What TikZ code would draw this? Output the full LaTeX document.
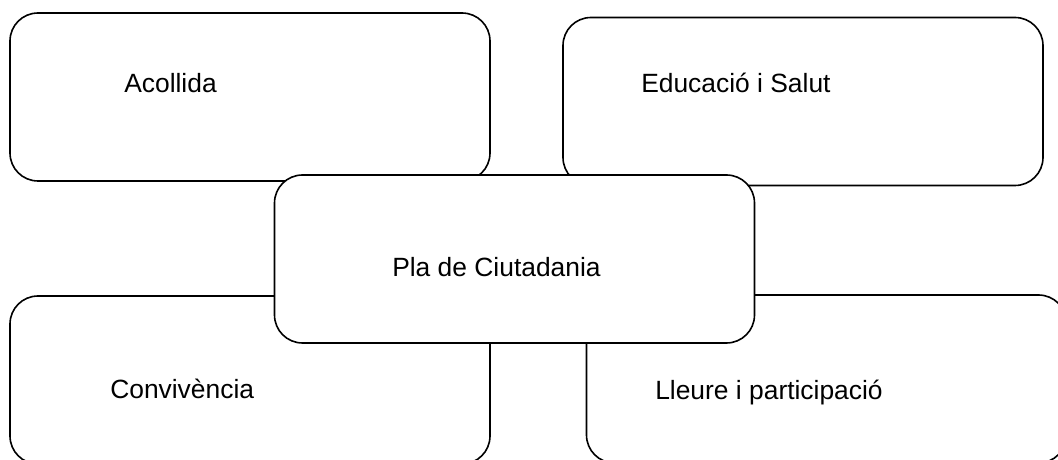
\documentclass[tikz,border=0pt]{standalone}
\usepackage{fontspec}
\setmainfont{Liberation Sans}
\tikzset{
	area/.style={draw, line width=1.2pt, rounded corners=21pt, minimum width=360pt, minimum height=126pt, inner sep=0pt, outer sep=0pt},
	areatext/.style={anchor=base west, inner sep=0pt}
}
\begin{document}
\begin{tikzpicture}[x=.75pt, y=.75pt, font=\fontsize{19.8}{24}\selectfont, line join=round, line cap=round]
			\useasboundingbox (0,0) rectangle (1058,460);
			\clip (0,0) rectangle (1058,460);
			\fill[white] (0,0) rectangle (1058,460);
			\node[area] (aco) at (250,363) {};
			\node[area] (edu) at (803,358.5) {};
			\node[area] (con) at (250,80) {};
			\node[area] (lle) at (826.5,81) {};
			\node[areatext] (acot) at (124,367) {Acollida};
			\node[areatext] (edut) at (641,367) {Educació i Salut};
			\node[areatext] (cont) at (110,61) {Convivència};
			\node[areatext] (llet) at (655,60) {Lleure i participació};
			\node[area, fill=white] (pla) at (514.5,201) {};
			\node[areatext] (plat) at (392,183) {Pla de Ciutadania};
	\end{tikzpicture}
\end{document}
